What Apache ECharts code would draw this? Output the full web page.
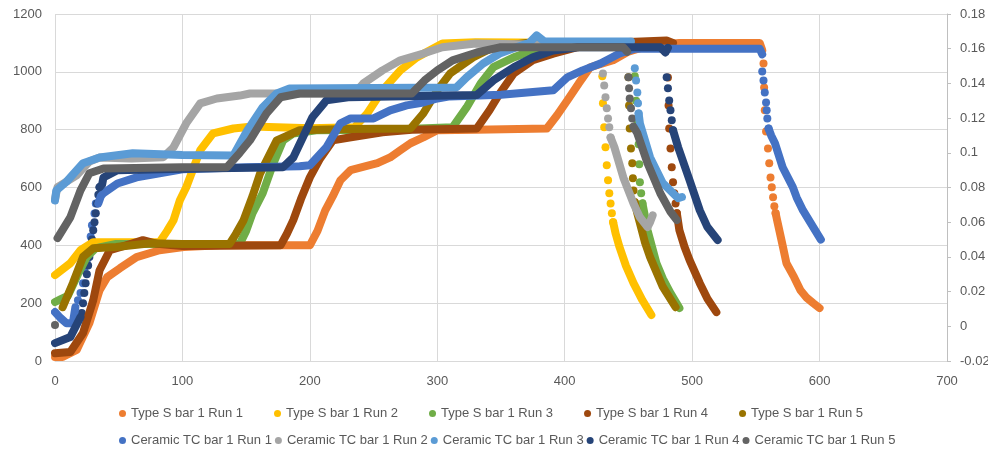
<!DOCTYPE html>
<html>
<head>
	<meta charset="utf-8"/>
	<title>Type S vs Ceramic TC</title>
	<script src="https://cdn.jsdelivr.net/npm/echarts@6/dist/echarts.min.js"></script>
	<style>
		html, body { margin: 0; padding: 0; background: #fff; }
		#chart { width: 988px; height: 450px; }
	</style>
</head>
<body>
	<div id="chart"></div>
	<script>
		// x ticks / y ticks
		const xTicks = [0, 100, 200, 300, 400, 500, 600, 700];
		const leftTicks = [0, 200, 400, 600, 800, 1000, 1200];
		const rightTicks = [-0.02, 0, 0.02, 0.04, 0.06, 0.08, 0.1, 0.12, 0.14, 0.16, 0.18];

		const typeSNames = ['Type S bar 1 Run 1', 'Type S bar 1 Run 2', 'Type S bar 1 Run 3', 'Type S bar 1 Run 4', 'Type S bar 1 Run 5'];
		const ceramicNames = ['Ceramic TC bar 1 Run 1', 'Ceramic TC bar 1 Run 2', 'Ceramic TC bar 1 Run 3', 'Ceramic TC bar 1 Run 4', 'Ceramic TC bar 1 Run 5'];
		const typeSColors = ['#ED7D31', '#FFC000', '#70AD47', '#9E480E', '#997300'];
		const ceramicColors = ['#4472C4', '#A5A5A5', '#5B9BD5', '#264478', '#636363'];

		// [null, null] = gap in the trace (fast parts show as single dots)
		// ---- Type S (left axis) ----
		const typeS1 = [[0,14],[6,14],[17,38],[27,131],[35,245],[41,290],[51,321],[64,359],[82,383],[101,394],[130,400],[200,400],[206,450],[212,520],[218,570],[224,625],[232,660],[253,684],[263,704],[271,729],[279,753],[289,773],[300,798],[330,800],[386,804],[394,850],[402,901],[411,960],[420,1016],[438,1040],[450,1070],[465,1090],[490,1100],[553,1100],[555,1075],[null,null],[565.5,511],[567,480],[571,400],[574,338],[580,290],[585,245],[590,218],[595,200],[600,183]];
		const typeS1Drop = [[556,1029],[556.5,946],[557,867],[558,794],[559.5,735],[560.5,684],[561.5,635],[562.5,601],[563.5,566],[564.5,535],[565.5,511]];

		const typeS2 = [[0,297],[12,338],[20,383],[30,411],[82,411],[88,450],[93,487],[98,556],[103,601],[114,729],[124,787],[140,804],[155,811],[200,805],[235,808],[245,856],[257,936],[271,1005],[284,1050],[304,1098],[330,1102],[428,1100],[null,null],[438,480],[440,440],[443,394],[448,330],[454,269],[461,210],[468,159]];
		const typeS2Drop = [[429.5,985],[430,891],[431,808],[432,739],[433,677],[434,625],[435,580],[436,545],[437,511],[438,480]];

		const typeS3 = [[0,204],[5,215],[10,225],[18,300],[25,360],[32,390],[48,405],[100,405],[145,405],[150,450],[155,511],[163,580],[171,680],[179,763],[187,787],[205,798],[260,800],[312,808],[323,877],[334,960],[344,1016],[360,1050],[375,1074],[395,1098],[452,1100],[null,null],[461,545],[463,500],[465,452],[472,338],[477,285],[483,235],[490,183]];
		const typeS3Drop = [[455,985],[456,900],[457,820],[458,750],[458.5,680],[459,618],[460,580],[461,545]];

		const typeS4 = [[0,27],[12,31],[22,97],[30,210],[35,314],[43,383],[61,407],[69,418],[80,405],[100,398],[177,400],[182,440],[187,487],[193,560],[200,635],[208,700],[218,763],[231,773],[257,791],[280,800],[331,804],[341,867],[349,925],[360,994],[375,1040],[391,1063],[410,1085],[430,1100],[480,1108],[485,1100],[null,null],[488,511],[490,452],[494,395],[498,349],[506,269],[512,215],[519,169]];
		const typeS4Drop = [[481,980],[481.5,884],[482,804],[483,735],[484,670],[485,618],[486,580],[487,545],[488,511]];

		const typeS5 = [[6,186],[14,269],[22,360],[30,390],[48,394],[75,407],[100,405],[137,405],[142,440],[148,487],[155,570],[161,649],[174,763],[192,798],[230,802],[279,804],[289,856],[300,936],[310,994],[328,1050],[344,1085],[370,1100],[448,1100],[null,null],[455,549],[457,510],[459,477],[463,410],[467,359],[477,256],[487,186]];
		const typeS5Drop = [[0,-3],[450,981],[450.5,884],[451,804],[452,735],[453,684],[453.5,632],[454,590],[455,549]];

		// ---- Ceramic TC (right axis) ----
		const ceramic1 = [[0,0.0082],[4,0.005],[9,0.0018],[14,0.0018],[16,0.011],[null,null],[34,0.0708],[36,0.075],[38,0.0767],[49,0.0823],[64,0.0858],[82,0.0882],[100,0.0905],[150,0.0917],[192,0.0922],[200,0.0928],[213,0.1032],[224,0.117],[232,0.1198],[250,0.1198],[263,0.1245],[276,0.1273],[289,0.129],[300,0.1313],[310,0.1325],[350,0.1335],[391,0.136],[402,0.1435],[414,0.1475],[428,0.1515],[443,0.1572],[455,0.16],[553,0.16],[555,0.1567],[null,null],[560,0.114],[562,0.11],[565,0.1055],[571,0.0917],[579,0.0802],[582,0.0743],[587,0.0668],[595,0.0572],[601,0.05]];
		const ceramic1Drop = [[18,0.015],[20,0.0192],[22,0.0248],[23,0.0323],[25,0.0382],[26,0.045],[28,0.0517],[29,0.0583],[31,0.065],[32,0.0708],[555,0.1468],[556,0.1417],[557,0.1348],[558,0.129],[558.5,0.1245],[559,0.1198],[560,0.114]];

		const ceramic2 = [[0,0.0733],[2,0.0802],[17,0.087],[27,0.095],[35,0.0973],[60,0.0967],[85,0.0975],[93,0.1032],[103,0.117],[114,0.1285],[127,0.1313],[145,0.133],[153,0.1342],[235,0.1342],[242,0.14],[257,0.1475],[271,0.1533],[289,0.1572],[304,0.1608],[330,0.163],[428,0.1617],[null,null],[436,0.1088],[439,0.1032],[446,0.0858],[454,0.0708],[459,0.0628],[465,0.0572],[467,0.06],[469,0.064]];
		const ceramic2Drop = [[430,0.1457],[431,0.1388],[432,0.132],[433,0.1257],[434,0.1198],[435,0.1147],[436,0.1088]];

		const ceramic3 = [[0,0.0725],[1,0.0783],[9,0.0833],[22,0.094],[35,0.0973],[61,0.0997],[100,0.0987],[140,0.0985],[151,0.113],[163,0.1262],[174,0.1342],[184,0.137],[250,0.1373],[315,0.1377],[323,0.1435],[336,0.1515],[349,0.1572],[362,0.1608],[372,0.1633],[378,0.1677],[384,0.1642],[452,0.1642],[null,null],[458,0.1227],[459,0.117],[467,0.0973],[477,0.0825],[489,0.0738],[492,0.0745]];
		const ceramic3Drop = [[455,0.1487],[456,0.1417],[457,0.1348],[457.5,0.1285],[458,0.1227]];

		const ceramic4 = [[0,-0.0097],[12,-0.0062],[20,0.0053],[null,null],[35,0.0802],[37,0.0817],[38,0.0858],[49,0.09],[100,0.0908],[179,0.0917],[187,0.0973],[202,0.1205],[213,0.1302],[230,0.132],[331,0.1333],[344,0.1417],[360,0.1493],[375,0.155],[391,0.159],[410,0.1608],[475,0.1608],[479,0.1578],[481,0.1605],[null,null],[485,0.113],[489,0.1032],[498,0.0842],[506,0.0668],[512,0.0572],[520,0.0497]];
		const ceramic4Drop = [[21,0.0077],[22,0.0133],[23,0.0192],[24,0.0248],[25,0.03],[26,0.035],[27,0.04],[28,0.0457],[29,0.05],[30,0.0553],[31,0.06],[32,0.0652],[33,0.0708],[34,0.0758],[35,0.0802],[480,0.1435],[481,0.1372],[482,0.1302],[483,0.1245],[484,0.1187],[485,0.113]];

		const ceramic5 = [[2,0.0508],[12,0.0628],[20,0.0783],[27,0.0882],[38,0.091],[100,0.0917],[135,0.0917],[145,0.1],[153,0.1072],[166,0.1227],[177,0.132],[192,0.1342],[280,0.1342],[290,0.1417],[300,0.1475],[312,0.1533],[331,0.1578],[349,0.1608],[446,0.1608],[449,0.1583],[null,null],[454,0.115],[457,0.1112],[465,0.094],[475,0.0767],[483,0.066],[488,0.0612]];
		const ceramic5Drop = [[0,0.0007],[450,0.1435],[450.5,0.1372],[451,0.1313],[452,0.1257],[453,0.1198],[454,0.115]];

		const typeSLines = [typeS1, typeS2, typeS3, typeS4, typeS5];
		const typeSDrops = [typeS1Drop, typeS2Drop, typeS3Drop, typeS4Drop, typeS5Drop];
		const ceramicLines = [ceramic1, ceramic2, ceramic3, ceramic4, ceramic5];
		const ceramicDrops = [ceramic1Drop, ceramic2Drop, ceramic3Drop, ceramic4Drop, ceramic5Drop];

		const labelStyle = { color: '#595959', fontSize: 13, fontFamily: 'Liberation Sans' };
		const gridColor = '#d9d9d9';

		function buildSeries(names, colors, lines, drops, axisIndex) {
			let out = [];
			names.forEach((name, i) => {
				out.push({
					name: name,
					type: 'line',
					yAxisIndex: axisIndex,
					data: lines[i],
					showSymbol: false,
					symbol: 'none',
					connectNulls: false,
					itemStyle: { color: colors[i] },
					lineStyle: { color: colors[i], width: 8, cap: 'round', join: 'round' },
					emphasis: { disabled: true },
					animation: false
				});
				out.push({
					name: name,
					type: 'scatter',
					yAxisIndex: axisIndex,
					data: drops[i],
					symbolSize: 8,
					itemStyle: { color: colors[i], opacity: 1 },
					emphasis: { disabled: true },
					animation: false
				});
			});
			return out;
		}

		const legendBase = {
			orient: 'horizontal',
			icon: 'circle',
			itemWidth: 7,
			itemHeight: 7,
			textStyle: { color: '#595959', fontSize: 13, fontFamily: 'Liberation Sans' },
			selectedMode: false
		};

		const chart = echarts.init(document.getElementById('chart'));
		chart.setOption({
			backgroundColor: '#fff',
			animation: false,
			grid: { left: 55, right: 41, top: 14, bottom: 89, containLabel: false, outerBoundsMode: 'none' },
			legend: [
				Object.assign({}, legendBase, { data: typeSNames, left: 114, top: 402, itemGap: 31 }),
				Object.assign({}, legendBase, { data: ceramicNames, left: 114, top: 429, itemGap: 3 })
			],
			xAxis: {
				type: 'value',
				min: xTicks[0],
				max: xTicks[xTicks.length - 1],
				interval: 100,
				axisLine: { show: true, lineStyle: { color: gridColor } },
				axisTick: { show: false },
				splitLine: { show: true, lineStyle: { color: gridColor } },
				axisLabel: Object.assign({ margin: 14 }, labelStyle)
			},
			yAxis: [
				{
					type: 'value',
					min: leftTicks[0],
					max: leftTicks[leftTicks.length - 1],
					interval: 200,
					axisLine: { show: false },
					axisTick: { show: false },
					splitLine: { show: true, lineStyle: { color: gridColor } },
					axisLabel: Object.assign({ margin: 13, formatter: v => String(v) }, labelStyle)
				},
				{
					type: 'value',
					position: 'right',
					min: rightTicks[0],
					max: rightTicks[rightTicks.length - 1],
					interval: 0.02,
					axisLine: { show: true, lineStyle: { color: '#bfbfbf' } },
					axisTick: { show: true, length: 4, lineStyle: { color: '#bfbfbf' } },
					splitLine: { show: false },
					axisLabel: Object.assign({ margin: 13, formatter: v => String(Math.round(v * 100) / 100) }, labelStyle)
				}
			],
			series: buildSeries(typeSNames, typeSColors, typeSLines, typeSDrops, 0)
				.concat(buildSeries(ceramicNames, ceramicColors, ceramicLines, ceramicDrops, 1))
		});
	</script>
</body>
</html>
